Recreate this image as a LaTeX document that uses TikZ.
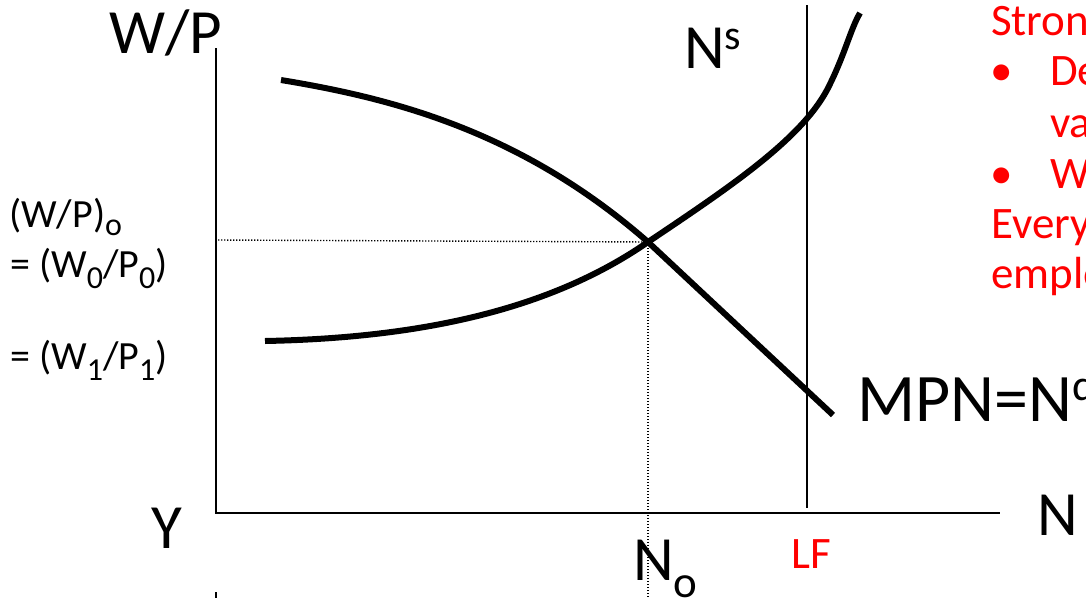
\documentclass[tikz,border=0pt]{standalone}
\usepackage{fontspec}
\setmainfont{Carlito}
\newcommand\lsub[1]{\raisebox{-0.28em}{\fontsize{32}{34}\selectfont #1}}
\begin{document}
\begin{tikzpicture}[x=1pt,y=-1pt,
  big/.style={font=\fontsize{63}{70}\selectfont, inner sep=0pt, anchor=base west},
  lab/.style={font=\fontsize{40}{44}\selectfont, inner sep=0pt, anchor=base west},
  redtxt/.style={font=\fontsize{45}{48}\selectfont, text=red, inner sep=0pt, anchor=base west},
  axisline/.style={line width=2.6pt},
  lfline/.style={line width=2pt},
  curveline/.style={line width=6pt},
  guide/.style={line width=1.4pt, dash pattern=on 1.4pt off 1.6pt}]
\useasboundingbox (0,0) rectangle (1086,598);

% axes
\draw[axisline] (216,48) -- (216,513) -- (1000,513);
\draw[axisline] (216,592) -- (216,598);

% labour force line
\draw[lfline] (807,5) -- (807,508);

% equilibrium
\coordinate (E) at (648,242);
\draw[guide] (218,240) -- (E);
\draw[guide] (E) -- (648,598);

% labour demand
\draw[curveline] (281,80) .. controls (390,98) and (520,130) .. (E) -- (833,415);
% labour supply
\draw[curveline] (265,341) .. controls (420,338) and (550,310) .. (E)
  .. controls (730,187) and (800,140) .. (827,90)
  .. controls (845,55) and (850,30) .. (860,13);

% labels
\node[big] (wp) at (109,53) {W/P};
\node[big] (ns) at (684,68) {N\raisebox{0.3em}{\fontsize{42}{44}\selectfont s}};
\node[big, font=\fontsize{68}{72}\selectfont] (mpn) at (857,421) {MPN=N\raisebox{0.3em}{\fontsize{44}{46}\selectfont d}};
\node[big] (y) at (151,548) {Y};
\node[big] (n) at (1037,535) {N};
\node[big] (no) at (633,580) {N\raisebox{-0.27em}{\fontsize{45}{47}\selectfont o}};
\node[redtxt] (lf) at (791,568) {LF};

\node[lab] (l1) at (9,227) {(W/P)\raisebox{-0.22em}{\fontsize{32}{34}\selectfont o}};
\node[lab] (l2) at (10,277) {= (W\lsub{0}/P\lsub{0})};
\node[lab] (l3) at (10,369) {= (W\lsub{1}/P\lsub{1})};

% red notes (cut at the right edge)
\node[redtxt] (t1) at (991,35) {Stron};
\node[redtxt] (b1) at (990,85) {•};
\node[redtxt] (t2) at (1050,85) {De};
\node[redtxt] (t3) at (1050,137) {va};
\node[redtxt] (b2) at (990,188) {•};
\node[redtxt] (t4) at (1050,188) {W};
\node[redtxt] (t5) at (991,238) {Every};
\node[redtxt] (t6) at (991,288) {emplo};
\end{tikzpicture}
\end{document}
